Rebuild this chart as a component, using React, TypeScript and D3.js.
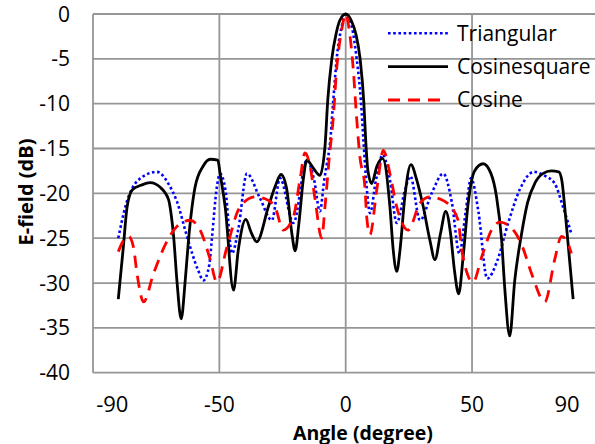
import React from "react";
import * as d3 from "d3";

const W = 595;
const H = 444;

const yTicks = [0, -5, -10, -15, -20, -25, -30, -35, -40];
const xGrid = [-50, 0, 50];
const xTickLabels = [-90, -50, 0, 50, 90];

const seriesNames = ["Triangular", "Cosinesquare", "Cosine"];

const triAngles = [-90, -87.2, -82, -74.7, -70, -66.8, -62.8, -58.5, -56.3, -54, -53, -51, -49.7, -47.6, -45, -42.5, -39.1, -34, -29.2, -26, -20.7, -15.4, -12.5, -10.2, -8.5, -7.5, -6.2, -4.9, -3.6, -1.6, 0, 2.4, 4.3, 6.0, 7.0, 8.3, 9.6, 12, 14.6, 17.5, 20.2, 23.5, 25.6, 29.4, 34, 38.6, 42, 45, 47.5, 49.6, 52.5, 56, 60, 64.3, 69, 74.5, 78.5, 82.7, 86, 89.3];
const triValues = [-25, -21.5, -18.5, -17.6, -19, -20.9, -24.8, -28.5, -29.7, -28, -25.2, -19.3, -17.8, -19.6, -26.7, -24, -17.8, -20.5, -23, -18.3, -23.3, -16.3, -18.5, -22, -18.5, -16.8, -14.4, -9.6, -5.1, -1.4, 0, -1.4, -4.9, -9.6, -14, -19.3, -22.2, -18.5, -15.7, -18.5, -23.3, -19.6, -18.1, -23, -20, -17.8, -21, -26.7, -22, -18.3, -22, -29.5, -27.5, -23.3, -19.5, -17.6, -18, -18.9, -21.5, -24.5];

const cosSqAngles = [-90, -88, -86.5, -84.4, -81, -77.4, -73.5, -70.1, -69, -68.1, -66.8, -65.1, -63.5, -62.2, -59.6, -56.5, -53.6, -50.6, -49.7, -47.7, -44.4, -42.5, -39.5, -37.5, -35.2, -30.6, -28, -25.6, -23.3, -21.3, -20, -18.5, -16.8, -15.4, -12.8, -10.2, -8.2, -7.1, -5.5, -3.8, -2.3, 0, 2.3, 4.0, 5.7, 7.2, 7.9, 8.8, 10.3, 12.3, 14.6, 17.5, 18.8, 20.2, 21.5, 23.4, 25.8, 28.1, 30.7, 33.3, 35.3, 37.5, 39.6, 41.5, 43, 44.7, 46.5, 48.5, 51, 54.4, 57.5, 59.7, 61.7, 63, 64.9, 66.9, 69.6, 72, 74.8, 78, 81.4, 84.3, 85.5, 87, 90];
const cosSqValues = [-31.8, -26, -21.5, -19.6, -19.1, -18.8, -19.3, -20.7, -22.5, -24.8, -29.7, -34.0, -29.7, -25.2, -19.3, -17.0, -16.2, -16.3, -17.8, -21.5, -30.8, -26.3, -22.9, -24.3, -25.4, -21.5, -19.3, -17.9, -19.6, -24.5, -26.4, -23.3, -18.5, -16.3, -17.2, -18.0, -14.8, -9.6, -5.0, -2.2, -0.7, 0, -0.8, -2.2, -5.0, -10, -14, -17.5, -18.9, -17.0, -16.1, -21.5, -26.3, -28.7, -26.3, -20.4, -16.8, -18.5, -21.5, -25.2, -27.4, -24.5, -22.0, -24.5, -28.5, -31.2, -27, -21, -17.5, -16.7, -17.8, -20.4, -25.2, -30.8, -35.9, -29.7, -24.5, -21, -18.9, -17.8, -17.5, -17.6, -18.5, -22.5, -31.8];

const cosAngles = [-90, -87.8, -85.9, -84, -82.6, -80, -76, -71, -66.8, -61.5, -57.6, -53.6, -51, -47, -41.8, -35.8, -31.9, -28, -24.7, -20.7, -18.1, -16.1, -14.1, -12.1, -9.5, -8.2, -6.5, -4.9, -3.6, -1.6, 0, 1.4, 3.0, 4.3, 5.6, 7.6, 8.3, 9.6, 12.3, 14.9, 17.5, 20.2, 24.7, 29.4, 33.3, 39.2, 44.5, 45.9, 50.4, 53.8, 57.7, 61, 66.9, 70, 73.5, 78.8, 82.7, 85.4, 87.5, 89.3];
const cosValues = [-26.5, -25.2, -24.8, -26, -28.9, -32.1, -28.9, -25.5, -23.7, -23.0, -24.1, -27.4, -29.9, -26, -21.5, -20.4, -20.6, -21.5, -24.1, -22.6, -18.5, -15.5, -17, -20.7, -25.0, -21.5, -16, -11.5, -6.2, -1.8, 0, -1.8, -6.2, -11.5, -15.9, -19.3, -22.6, -24.6, -19.6, -15.2, -17.8, -21.5, -24.1, -21.1, -20.4, -20.9, -23, -26.3, -29.9, -27.1, -24.1, -23.2, -24.3, -26, -28.9, -32.1, -27.4, -24.8, -25.3, -26.7];

const seriesStyles = [
  { color: "#0000ff", dash: "2.6 2.6", width: 2.6 },
  { color: "#000000", dash: "none", width: 2.8 },
  { color: "#ff0000", dash: "12 8", width: 2.8 },
];

const FONT = "'Open Sans', sans-serif";

export default function App() {
  const x = d3.scaleLinear().domain([-100, 100]).range([93, 598.4]);
  const y = d3.scaleLinear().domain([-40, 0]).range([372.7, 14]);

  const line = d3
    .line<[number, number]>()
    .x((d) => x(d[0]))
    .y((d) => y(d[1]))
    .curve(d3.curveMonotoneX);

  const series = [
    d3.zip(triAngles, triValues) as [number, number][],
    d3.zip(cosSqAngles, cosSqValues) as [number, number][],
    d3.zip(cosAngles, cosValues) as [number, number][],
  ];

  const gridColor = "#969696";
  const legendY = [33.3, 66.7, 100];

  return (
    <svg
      width={W}
      height={H}
      style={{ position: "absolute", left: 0, top: 0, background: "#fff" }}
      fontFamily={FONT}
    >
      {yTicks.map((t) => (
        <line
          key={"hy" + t}
          x1={x(-100)}
          x2={W}
          y1={y(t)}
          y2={y(t)}
          stroke={gridColor}
          strokeWidth={1.8}
        />
      ))}
      {xGrid.map((t) => (
        <line
          key={"vx" + t}
          x1={x(t)}
          x2={x(t)}
          y1={y(0)}
          y2={y(-40)}
          stroke={gridColor}
          strokeWidth={1.8}
        />
      ))}
      <line x1={x(-100)} x2={x(-100)} y1={y(0)} y2={y(-40)} stroke={gridColor} strokeWidth={1.8} />

      {yTicks.map((t) => (
        <text key={"ty" + t} x={70} y={y(t)} dy="0.357em" textAnchor="end" fontSize={21} fill="#000">
          {t}
        </text>
      ))}
      {xTickLabels.map((t) => (
        <text
          key={"tx" + t}
          x={x(t) + (Math.abs(t) === 90 ? -6 : 0)}
          y={411.5}
          textAnchor="middle"
          fontSize={Math.abs(t) === 90 ? 22 : 21}
          fill="#000"
        >
          {t}
        </text>
      ))}

      <text x={363} y={439.5} textAnchor="middle" fontSize={19.5} fontWeight="bold" fill="#000">
        Angle (degree)
      </text>
      <text
        transform={`translate(33, 192) rotate(-90)`}
        textAnchor="middle"
        fontSize={20}
        fontWeight="bold"
        fill="#000"
      >
        E-field (dB)
      </text>

      {series.map((s, i) => (
        <path
          key={"s" + i}
          d={line(s) || ""}
          fill="none"
          stroke={seriesStyles[i].color}
          strokeWidth={seriesStyles[i].width}
          strokeDasharray={seriesStyles[i].dash}
          strokeLinejoin="round"
        />
      ))}

      {seriesNames.map((n, i) => (
        <g key={"lg" + i}>
          <line
            x1={388}
            x2={448}
            y1={legendY[i]}
            y2={legendY[i]}
            stroke={seriesStyles[i].color}
            strokeWidth={seriesStyles[i].width}
            strokeDasharray={seriesStyles[i].dash}
          />
          <text x={457} y={legendY[i]} dy="0.357em" fontSize={21} fill="#000">
            {n}
          </text>
        </g>
      ))}
    </svg>
  );
}
